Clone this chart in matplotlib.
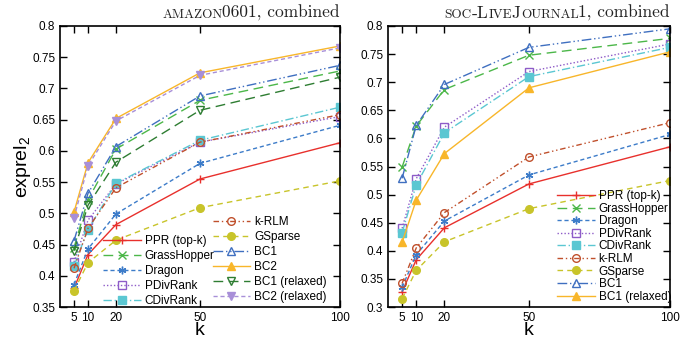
import matplotlib
matplotlib.use('Agg')

import matplotlib.pyplot as plt

plt.rcParams['font.family'] = ['Liberation Sans', 'DejaVu Sans']
plt.rcParams['mathtext.default'] = 'regular'

k = [5, 10, 20, 50, 100]

# amazon0601, combined
amazon = {
    'PPR (top-k)':   [0.380, 0.434, 0.482, 0.555, 0.613],
    'GrassHopper':   [0.445, 0.522, 0.603, 0.681, 0.728],
    'Dragon':        [0.386, 0.443, 0.499, 0.580, 0.641],
    'PDivRank':      [0.422, 0.489, 0.547, 0.614, 0.655],
    'CDivRank':      [0.416, 0.474, 0.548, 0.617, 0.670],
    'k-RLM':         [0.412, 0.476, 0.541, 0.614, 0.658],
    'GSparse':       [0.376, 0.421, 0.457, 0.509, 0.552],
    'BC1':           [0.456, 0.532, 0.607, 0.688, 0.737],
    'BC2':           [0.502, 0.581, 0.652, 0.725, 0.768],
    'BC1 (relaxed)': [0.440, 0.513, 0.582, 0.665, 0.718],
    'BC2 (relaxed)': [0.493, 0.576, 0.648, 0.721, 0.765],
}

# soc-LiveJournal1, combined
livejournal = {
    'PPR (top-k)':   [0.327, 0.384, 0.441, 0.519, 0.585],
    'GrassHopper':   [0.549, 0.622, 0.687, 0.748, 0.778],
    'Dragon':        [0.335, 0.393, 0.453, 0.535, 0.607],
    'PDivRank':      [0.440, 0.528, 0.620, 0.719, 0.768],
    'CDivRank':      [0.432, 0.517, 0.610, 0.710, 0.762],
    'k-RLM':         [0.342, 0.405, 0.468, 0.567, 0.628],
    'GSparse':       [0.315, 0.365, 0.416, 0.475, 0.525],
    'BC1':           [0.529, 0.623, 0.696, 0.762, 0.795],
    'BC1 (relaxed)': [0.415, 0.490, 0.573, 0.690, 0.754],
}

# color, dashes, marker, filled
style = {
    'PPR (top-k)':   ('#e8302c', None, '+', True),
    'GrassHopper':   ('#4cb749', (7, 4), 'x', True),
    'Dragon':        ('#3d7cc9', (3, 2), (6, 2, 0), True),
    'PDivRank':      ('#8e5cc8', (1, 1.5), 's', False),
    'CDivRank':      ('#5bc7d2', (6, 2, 1, 2), 's', True),
    'k-RLM':         ('#c0502c', (4, 2, 1, 2, 1, 2), 'o', False),
    'GSparse':       ('#c8c42a', (4, 3), 'o', True),
    'BC1':           ('#3f6fc0', (7, 2, 1, 2, 1, 2), '^', False),
    'BC2':           ('#f8b62a', None, '^', True),
    'BC1 (relaxed)': ('#2e7d32', (7, 4), 'v', False),
    'BC2 (relaxed)': ('#a88fd8', (3, 2), 'v', True),
}
# in the LiveJournal panel BC1 (relaxed) is drawn like BC2
style_lj = dict(style)
style_lj['BC1 (relaxed)'] = style['BC2']


def draw(ax, data, st):
    lines = {}
    for name, vals in data.items():
        c, dash, m, filled = st[name]
        ln, = ax.plot(k, vals, color=c, lw=1.0, marker=m, ms=5.5,
                      mfc=c if filled else 'none', mec=c, mew=1.0)
        if dash is not None:
            ln.set_dashes(dash)
        lines[name] = ln
    ax.set_xlim(0, 100)
    ax.set_xticks(k)
    ax.tick_params(direction='in', top=True, right=True, length=5,
                   labelsize=8.5, width=1)
    for s in ax.spines.values():
        s.set_linewidth(1.2)
    ax.set_xlabel('k', fontsize=14, labelpad=-1)
    return lines


def fmt(v):
    return ('%.2f' % v).rstrip('0')


def sc_title(fig, ax, parts, y):
    r = fig.canvas.get_renderer()
    W = fig.get_figwidth() * fig.dpi
    objs = []
    for s, sz in parts:
        t = fig.text(0, y, s, fontsize=sz, family='cmr10', va='baseline', color='#222222')
        objs.append((t, t.get_window_extent(r).width))
    x = ax.get_position().x1 * W - sum(w for _, w in objs)
    for t, w in objs:
        t.set_x(x / W)
        x += w


fig = plt.figure(figsize=(6.87, 3.39), dpi=100)
ax1 = fig.add_axes([60 / 687, 32 / 339, 280 / 687, 281 / 339])
ax2 = fig.add_axes([388 / 687, 32 / 339, 282 / 687, 281 / 339])

l1 = draw(ax1, amazon, style)
ax1.set_ylim(0.35, 0.8)
yt1 = [0.35, 0.4, 0.45, 0.5, 0.55, 0.6, 0.65, 0.7, 0.75, 0.8]
ax1.set_yticks(yt1)
ax1.set_yticklabels([fmt(v) for v in yt1])
ax1.set_ylabel('exprel$_2$', fontsize=14, labelpad=-1)

l2 = draw(ax2, livejournal, style_lj)
ax2.set_ylim(0.3, 0.8)
yt2 = [0.3, 0.35, 0.4, 0.45, 0.5, 0.55, 0.6, 0.65, 0.7, 0.75, 0.8]
ax2.set_yticks(yt2)
ax2.set_yticklabels([fmt(v) for v in yt2])

leg_a = ['PPR (top-k)', 'GrassHopper', 'Dragon', 'PDivRank', 'CDivRank']
leg_b = ['k-RLM', 'GSparse', 'BC1', 'BC2', 'BC1 (relaxed)', 'BC2 (relaxed)']
kw = dict(frameon=False, fontsize=8.5, numpoints=1, handlelength=3.2,
          handletextpad=0.3, borderaxespad=0, borderpad=0)
lg = ax1.legend([l1[n] for n in leg_a], leg_a, loc='lower left',
                bbox_to_anchor=(0.155, 0.0), labelspacing=0.25, **kw)
ax1.add_artist(lg)
ax1.legend([l1[n] for n in leg_b], leg_b, loc='lower left',
           bbox_to_anchor=(0.545, 0.015), labelspacing=0.25, **kw)

leg_c = list(livejournal.keys())
ax2.legend([l2[n] for n in leg_c], leg_c, loc='lower left',
           bbox_to_anchor=(0.6, 0.015), labelspacing=0.05, **kw)

fig.canvas.draw()
sc_title(fig, ax1, [('AMAZON', 9.5), ('0601, combined', 12.5)], 1 - 18 / 339)
sc_title(fig, ax2, [('SOC', 9.5), ('-L', 12.5), ('IVE', 9.5), ('J', 12.5),
                    ('OURNAL', 9.5), ('1, combined', 12.5)], 1 - 18 / 339)

fig.savefig('out.png', dpi=100)
